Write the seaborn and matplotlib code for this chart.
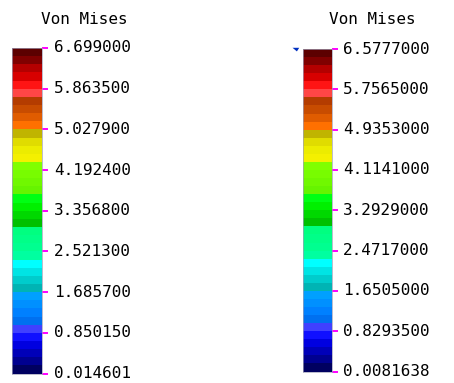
import numpy as np
import matplotlib.pyplot as plt
from matplotlib.colors import ListedColormap
from matplotlib.patches import Polygon
import seaborn as sns

# contour band colours, top (max) to bottom (min)
BAND_COLORS = [
    '#5c0000', '#800000', '#b40000', '#d80000', '#ff1414',
    '#ff4646', '#b43c00', '#c84c00', '#e05c00', '#ff7000',
    '#c0b400', '#e0dc00', '#ecec00', '#f4f000', '#80ff00',
    '#78fc00', '#70f800', '#66f400', '#00ff14', '#00f000',
    '#00d800', '#00c000', '#00ff80', '#00ff88', '#00ff90',
    '#00ffa0', '#00ffff', '#00e4e4', '#00cccc', '#00b4b4',
    '#00a0ff', '#0090ff', '#0080ff', '#0070f0', '#4040ff',
    '#1010ff', '#0000e0', '#0000b8', '#000090', '#000060',
]

TITLE = 'Von Mises'
LEFT_LABELS = ['6.699000', '5.863500', '5.027900', '4.192400', '3.356800',
               '2.521300', '1.685700', '0.850150', '0.014601']
RIGHT_LABELS = ['6.5777000', '5.7565000', '4.9353000', '4.1141000', '3.2929000',
                '2.4717000', '1.6505000', '0.8293500', '0.0081638']

W, H = 454, 383


def setup_style():
    sns.set_style("white")
    plt.rcParams['font.family'] = ['DejaVu Sans Mono']


def draw_bar(fig, rect, labels, title, title_x):
    x0, y0, x1, y1 = rect  # pixel box, y from top
    ax = fig.add_axes([x0 / W, 1 - y1 / H, (x1 - x0) / W, (y1 - y0) / H])
    n = len(BAND_COLORS)
    cmap = ListedColormap(BAND_COLORS)
    band = np.arange(n).reshape(-1, 1)
    sns.heatmap(band, ax=ax, cmap=cmap, vmin=-0.5, vmax=n - 0.5, cbar=False,
                xticklabels=False, yticklabels=False, linewidths=0)
    for s in ax.spines.values():
        s.set_visible(True)
        s.set_color('#a0a0b8')
        s.set_linewidth(0.5)
    step = n / (len(labels) - 1)
    ax.set_yticks([i * step for i in range(len(labels))])
    ax.set_yticklabels(labels)
    ax.yaxis.tick_right()
    ax.tick_params(axis='y', which='major', left=False, right=True,
                   color='#ff00ff', length=4.3, width=1.4, pad=4,
                   labelcolor='black', labelsize=11.5)
    ax.tick_params(axis='x', bottom=False, top=False)
    for lbl in ax.get_yticklabels():
        lbl.set_verticalalignment('center')
    fig.text(title_x / W, 1 - 19 / H, title, ha='center', va='center',
             fontsize=11.5, color='black')
    return ax


def main():
    setup_style()
    fig = plt.figure(figsize=(W / 100, H / 100), dpi=100)
    draw_bar(fig, (12, 48, 42.5, 373.5), LEFT_LABELS, TITLE, 84)
    ax2 = draw_bar(fig, (302.7, 49, 331.7, 371.5), RIGHT_LABELS, TITLE, 372)
    # small marker at top-left corner of right bar
    ax2.add_patch(Polygon([[-0.35, -0.15], [-0.12, -0.15], [-0.2, 0.3]],
                          closed=True, facecolor='#0030c0', edgecolor='none',
                          clip_on=False))
    fig.savefig('out.png', dpi=100)
    plt.close(fig)


if __name__ == "__main__":
    main()
